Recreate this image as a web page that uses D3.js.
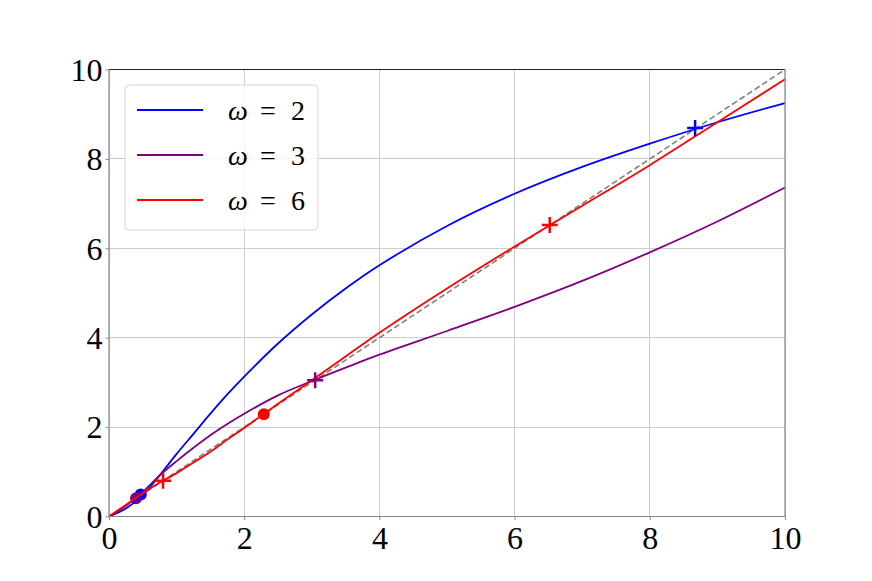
<!DOCTYPE html>
<meta charset="utf-8">
<style>
body { margin: 0; background: #fff; }
svg { display: block; background: #fff; }
.tick-label { font-family: "Liberation Serif", "DejaVu Serif", serif; font-size: 32px; fill: #000; }
.legend text { font-family: "Liberation Serif", "DejaVu Serif", serif; font-size: 28px; fill: #000; }
.grid line { stroke: #cccccc; stroke-width: 1; shape-rendering: crispEdges; }
.curve { fill: none; stroke-width: 1.8px; }
</style>
<body>
<div id="chart"></div>
<script src="https://cdn.jsdelivr.net/npm/d3@7"></script>
<script>
// sample points
var xs = [0, 0.25, 0.5, 0.75, 1, 1.25, 1.5, 1.75, 2, 2.5, 3, 3.5, 4, 5, 6, 7, 8, 9, 10];
var omega2 = [0, 0.18, 0.48, 0.92, 1.4, 1.85, 2.3, 2.73, 3.13, 3.87, 4.52, 5.1, 5.62, 6.5, 7.22, 7.82, 8.34, 8.82, 9.25];
var omega3 = [0, 0.24, 0.55, 0.92, 1.24, 1.54, 1.82, 2.07, 2.3, 2.71, 3.03, 3.33, 3.62, 4.15, 4.69, 5.27, 5.91, 6.6, 7.36];
var omega6 = [0, 0.26, 0.52, 0.76, 0.97, 1.21, 1.45, 1.72, 1.98, 2.52, 3.05, 3.58, 4.11, 5.1, 6.04, 6.95, 7.86, 8.82, 9.78];

var labels = ["\u03c9 = 2", "\u03c9 = 3", "\u03c9 = 6"];
var colors = ["#0000ff", "#800080", "#ff0000"];
var xTicks = [0, 2, 4, 6, 8, 10];
var yTicks = [0, 2, 4, 6, 8, 10];

// fixed points (dots) and crossings (plus markers)
var dotX = [0.47, 0.40, 2.29];
var dotY = [0.49, 0.41, 2.29];
var crossX = [8.67, 3.05, 0.8, 6.52];
var crossY = [8.69, 3.05, 0.8, 6.52];
var crossSeries = [0, 1, 2, 2];

var W = 872, H = 581,
    margin = {top: 69.5, right: 87, bottom: 64.5, left: 109},
    width = W - margin.left - margin.right,
    height = H - margin.top - margin.bottom;

var x = d3.scaleLinear().domain([0, 10]).range([0, width]);
var y = d3.scaleLinear().domain([0, 10]).range([height, 0]);

var svg = d3.select("#chart").append("svg")
    .attr("width", W).attr("height", H)
  .append("g")
    .attr("transform", "translate(" + margin.left + "," + margin.top + ")");

// grid
var grid = svg.append("g").attr("class", "grid");
grid.selectAll(".gx").data(xTicks).enter().append("line")
    .attr("x1", d => x(d)).attr("x2", d => x(d))
    .attr("y1", 0).attr("y2", height);
grid.selectAll(".gy").data(yTicks).enter().append("line")
    .attr("x1", 0).attr("x2", width)
    .attr("y1", d => y(d)).attr("y2", d => y(d));

// diagonal reference
svg.append("line")
    .attr("x1", x(0)).attr("y1", y(0))
    .attr("x2", x(10)).attr("y2", y(10))
    .attr("stroke", "#808080").attr("stroke-width", 1.6)
    .attr("stroke-dasharray", "6,3");

var series = [omega2, omega3, omega6];

// dots
svg.selectAll(".dot").data(dotX).enter().append("circle")
    .attr("cx", d => x(d))
    .attr("cy", (d, i) => y(dotY[i]))
    .attr("r", 6)
    .attr("fill", (d, i) => colors[i]);

var line = d3.line()
    .x((d, i) => x(xs[i]))
    .y(d => y(d))
    .curve(d3.curveCatmullRom.alpha(0.5));

svg.selectAll(".curve").data(series).enter().append("path")
    .attr("class", "curve")
    .attr("d", line)
    .attr("stroke", (d, i) => colors[i]);

// plus markers
svg.selectAll(".plus").data(crossX).enter().append("path")
    .attr("class", "plus")
    .attr("transform", (d, i) => "translate(" + x(d) + "," + y(crossY[i]) + ")")
    .attr("d", "M-8,0H8M0,-8V8")
    .attr("stroke", (d, i) => colors[crossSeries[i]])
    .attr("stroke-width", 2.5)
    .attr("fill", "none");

// spines
svg.append("line").attr("x1", 0).attr("x2", width).attr("y1", 0).attr("y2", 0)
    .attr("stroke", "#222").attr("stroke-width", 1);
svg.append("line").attr("x1", 0).attr("x2", width).attr("y1", height).attr("y2", height)
    .attr("stroke", "#888").attr("stroke-width", 1.2);
svg.append("line").attr("x1", 0).attr("x2", 0).attr("y1", 0).attr("y2", height)
    .attr("stroke", "#888").attr("stroke-width", 1.2);
svg.append("line").attr("x1", width).attr("x2", width).attr("y1", 0).attr("y2", height)
    .attr("stroke", "#888").attr("stroke-width", 1.2);

// axes
var xAxis = svg.append("g")
    .attr("transform", "translate(0," + height + ")")
    .call(d3.axisBottom(x).tickValues(xTicks).tickSize(3.5).tickPadding(4).tickFormat(d3.format("d")));
var yAxis = svg.append("g")
    .call(d3.axisLeft(y).tickValues(yTicks).tickSize(3.5).tickPadding(3).tickFormat(d3.format("d")));
[xAxis, yAxis].forEach(function(a) {
  a.select(".domain").remove();
  a.selectAll(".tick line").attr("stroke", "#888");
  a.selectAll(".tick text").attr("class", "tick-label").attr("font-size", null).attr("font-family", null);
});
xAxis.selectAll(".tick text").attr("dy", "0.78em");
yAxis.selectAll(".tick text").attr("dy", "0.34em");

// legend
var legend = svg.append("g").attr("class", "legend")
    .attr("transform", "translate(" + (125 - margin.left) + "," + (85 - margin.top) + ")");
legend.append("rect")
    .attr("width", 193).attr("height", 145)
    .attr("rx", 4).attr("ry", 4)
    .attr("fill", "#fff").attr("fill-opacity", 0.8)
    .attr("stroke", "#d6d6d6").attr("stroke-width", 1);
var items = legend.selectAll(".item").data(labels).enter().append("g")
    .attr("transform", (d, i) => "translate(0," + (25 + i * 45) + ")");
items.append("line")
    .attr("x1", 12).attr("x2", 78)
    .attr("stroke", (d, i) => colors[i]).attr("stroke-width", 1.8);
items.append("text")
    .attr("x", 103).attr("dy", "0.34em")
    .html(d => '<tspan font-style="italic">' + d.split(" ")[0] + '</tspan><tspan x="135">=</tspan><tspan x="166">' + d.split(" ")[2] + '</tspan>');
</script>
</body>
